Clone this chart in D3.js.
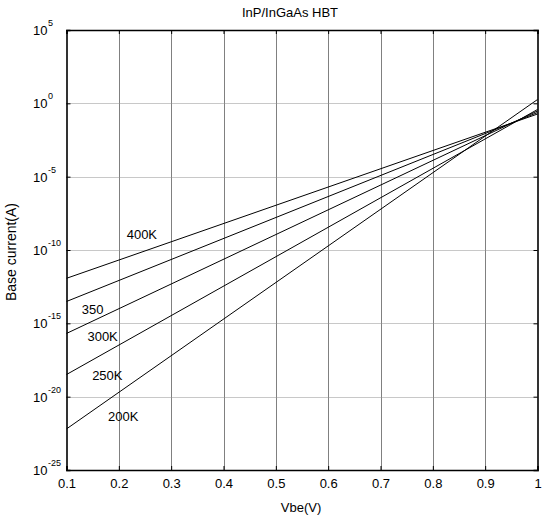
<!DOCTYPE html>
<html>
<head>
<meta charset="utf-8">
<script src="https://cdn.jsdelivr.net/npm/d3@7"></script>
<style>
  body { margin: 0; background: #fff; }
  svg { display: block; font-family: "Liberation Sans", Arial, sans-serif; }
</style>
</head>
<body>
<svg id="chart" width="544" height="517"></svg>
<script>
// Base current vs base-emitter voltage at several temperatures (InP/InGaAs HBT)
const temperatures = ["400K", "350", "300K", "250K", "200K"];
const vbeValues = [0.1, 1.0];
// log10 of base current (A) at Vbe = 0.1 V and 1.0 V
const logIb400 = [-11.93, -0.73];
const logIb350 = [-13.51, -0.63];
const logIb300 = [-15.69, -0.52];
const logIb250 = [-18.49, -0.42];
const logIb200 = [-22.2, 0.26];
const xTicks = [0.1, 0.2, 0.3, 0.4, 0.5, 0.6, 0.7, 0.8, 0.9, 1];
const yTickExps = [5, 0, -5, -10, -15, -20, -25];
// label anchor points (Vbe, log10 Ib)
const labelVbe = [0.244, 0.150, 0.169, 0.178, 0.2085];
const labelLog = [-9.0, -14.1, -16.0, -18.65, -21.4];

const seriesLogs = [logIb400, logIb350, logIb300, logIb250, logIb200];

const svg = d3.select("#chart");
const m = { left: 66.5, right: 537.5, top: 30, bottom: 470 };
const fontSize = 13;

const x = d3.scaleLinear().domain([0.1, 1]).range([m.left, m.right]);
const y = d3.scaleLog().domain([1e-25, 1e5]).range([m.bottom, m.top]);

// grid: solid grey verticals, dotted horizontals
const grid = svg.append("g");
grid.selectAll("line.vx").data(xTicks.slice(1, -1)).enter().append("line")
  .attr("x1", d => Math.round(x(d)) + 0.5).attr("x2", d => Math.round(x(d)) + 0.5)
  .attr("y1", m.top).attr("y2", m.bottom)
  .attr("stroke", "#808080").attr("stroke-width", 1);
grid.selectAll("line.hy").data(yTickExps.slice(1, -1)).enter().append("line")
  .attr("x1", m.left).attr("x2", m.right)
  .attr("y1", d => Math.round(y(Math.pow(10, d))) + 0.5)
  .attr("y2", d => Math.round(y(Math.pow(10, d))) + 0.5)
  .attr("stroke", "#909090").attr("stroke-width", 1)
  .attr("stroke-dasharray", "1,1");

// curves
const line = d3.line().x(d => x(d[0])).y(d => y(Math.pow(10, d[1])));
svg.append("g").selectAll("path").data(seriesLogs).enter().append("path")
  .attr("d", s => line(vbeValues.map((v, i) => [v, s[i]])))
  .attr("fill", "none").attr("stroke", "#000").attr("stroke-width", 1);

// axes: bottom with labels, top/left/right ticks only
const tickLen = 4;
const xAxisB = d3.axisBottom(x).tickValues(xTicks).tickSize(-tickLen).tickPadding(9)
  .tickFormat(d => d === 1 ? "1" : d3.format(".1f")(d));
const gxb = svg.append("g").attr("transform", `translate(0,${m.bottom})`).call(xAxisB);
const xAxisT = d3.axisTop(x).tickValues(xTicks).tickSize(-tickLen).tickFormat("");
const gxt = svg.append("g").attr("transform", `translate(0,${m.top})`).call(xAxisT);

const yTickVals = yTickExps.map(e => Math.pow(10, e));
const yAxisL = d3.axisLeft(y).tickValues(yTickVals).tickSize(-tickLen).tickFormat("");
const gyl = svg.append("g").attr("transform", `translate(${m.left},0)`).call(yAxisL);
const yAxisR = d3.axisRight(y).tickValues(yTickVals).tickSize(-tickLen).tickFormat("");
const gyr = svg.append("g").attr("transform", `translate(${m.right},0)`).call(yAxisR);

[gxb, gxt, gyl, gyr].forEach(g => {
  g.select(".domain").attr("stroke", "#000").attr("stroke-width", 1.6);
  g.selectAll(".tick line").attr("stroke", "#000");
  g.selectAll("text").attr("font-family", "Liberation Sans, Arial, sans-serif")
    .attr("font-size", fontSize).attr("fill", "#000");
});
gxb.selectAll(".tick text").attr("dy", "0.71em");

// y tick labels as 10^n
const yl = svg.append("g").attr("font-size", fontSize).attr("fill", "#000");
yTickExps.forEach(e => {
  const t = yl.append("text")
    .attr("x", 33).attr("y", y(Math.pow(10, e)) + 5);
  t.append("tspan").text("10");
  t.append("tspan").attr("font-size", 9).attr("dy", -9).attr("dx", 0.5).text(String(e));
});

// temperature labels
svg.append("g").selectAll("text").data(temperatures).enter().append("text")
  .attr("x", (d, i) => x(labelVbe[i]))
  .attr("y", (d, i) => y(Math.pow(10, labelLog[i])))
  .attr("text-anchor", "middle").attr("dominant-baseline", "middle")
  .attr("font-size", fontSize).attr("fill", "#000").text(d => d);

// title and axis titles
svg.append("text").attr("x", 290).attr("y", 17).attr("text-anchor", "middle")
  .attr("font-size", fontSize).text("InP/InGaAs HBT");
svg.append("text").attr("x", 301).attr("y", 512).attr("text-anchor", "middle")
  .attr("font-size", fontSize).text("Vbe(V)");
svg.append("text").attr("transform", "translate(16,252) rotate(-90)")
  .attr("text-anchor", "middle").attr("font-size", 14).text("Base current(A)");
</script>
</body>
</html>
